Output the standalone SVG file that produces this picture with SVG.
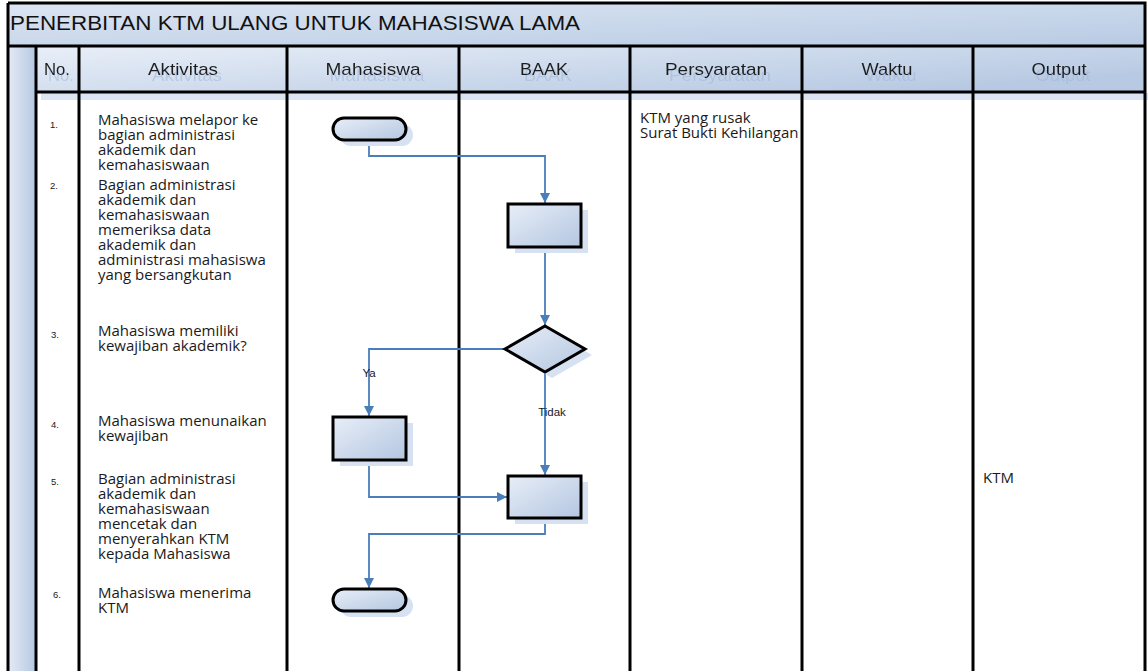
<svg xmlns="http://www.w3.org/2000/svg" width="1148" height="671" viewBox="0 0 1148 671">
<defs>
<linearGradient id="gTitle" x1="0" y1="0" x2="1" y2="1"><stop offset="0" stop-color="#dce5f2"/><stop offset="1" stop-color="#b8cbe4"/></linearGradient>
<linearGradient id="gHead" x1="0" y1="0" x2="1" y2="0.6"><stop offset="0" stop-color="#e9eff8"/><stop offset="1" stop-color="#b8cae3"/></linearGradient>
<linearGradient id="gSide" x1="0" y1="0" x2="1" y2="0"><stop offset="0" stop-color="#e4ebf5"/><stop offset="1" stop-color="#b5c8e2"/></linearGradient>
<linearGradient id="gShape" x1="0" y1="0" x2="1" y2="1"><stop offset="0" stop-color="#e8eef8"/><stop offset="1" stop-color="#b3c6e0"/></linearGradient>
<filter id="tsh" x="-20%" y="-50%" width="140%" height="200%"><feDropShadow dx="4" dy="6" stdDeviation="0.4" flood-color="#9fb6da" flood-opacity="0.55"/></filter>
<marker id="arr" viewBox="0 0 10 10" refX="10" refY="5" markerWidth="10" markerHeight="10" orient="auto" markerUnits="userSpaceOnUse"><path d="M0,0 L10,5 L0,10 z" fill="#4a7ebb"/></marker>
<style>
.grid{stroke:#000;stroke-width:3;fill:none}
.hd{font-family:"Liberation Sans",Arial,sans-serif;font-size:17px;fill:#1e1e1e;text-anchor:middle}
.tx{font-family:"Open Sans","Noto Sans",sans-serif;font-size:15px;fill:#1a1a1a}
.num{font-family:"Liberation Sans",Arial,sans-serif;font-size:9.5px;fill:#1a1a1a}
.lbl{font-family:"Liberation Sans",Arial,sans-serif;font-size:11.5px;fill:#1a1a1a}
.shape{fill:url(#gShape);stroke:#000;stroke-width:3}
.shadow{fill:#d6e1f1}
.hsh{fill:#dbe4f2}
.conn{fill:none;stroke:#4a7ebb;stroke-width:1.8}
</style>
</defs>
<rect width="1148" height="671" fill="#fff"/>
<g id="frame">
<rect x="8" y="3" width="1137" height="43" fill="url(#gTitle)"/>
<rect x="8" y="46" width="28" height="625" fill="url(#gSide)"/>
<rect x="41" y="93" width="43" height="7" class="hsh"/>
<rect x="84" y="93" width="208" height="7" class="hsh"/>
<rect x="292" y="93" width="172" height="7" class="hsh"/>
<rect x="464" y="93" width="171" height="7" class="hsh"/>
<rect x="635" y="93" width="172" height="7" class="hsh"/>
<rect x="807" y="93" width="171" height="7" class="hsh"/>
<rect x="978" y="93" width="170" height="7" class="hsh"/>
<rect x="36" y="46" width="1109" height="46" fill="url(#gHead)"/>
<text x="10" y="30" font-family="Liberation Sans,Arial,sans-serif" font-size="21" fill="#111" textLength="570" lengthAdjust="spacingAndGlyphs">PENERBITAN KTM ULANG UNTUK MAHASISWA LAMA</text>
<path class="grid" d="M8,3 H1145 V671 M8,3 V671 M8,46 H1145 M36,92 H1145 M36,46 V671 M79,46 V671 M287,46 V671 M459,46 V671 M630,46 V671 M802,46 V671 M973,46 V671"/>
<g filter="url(#tsh)">
<text class="hd" x="57" y="75" textLength="26" lengthAdjust="spacingAndGlyphs">No.</text>
<text class="hd" x="183" y="75" textLength="70" lengthAdjust="spacingAndGlyphs">Aktivitas</text>
<text class="hd" x="373" y="75" textLength="95" lengthAdjust="spacingAndGlyphs">Mahasiswa</text>
<text class="hd" x="544" y="75" textLength="48" lengthAdjust="spacingAndGlyphs">BAAK</text>
<text class="hd" x="716" y="75" textLength="102" lengthAdjust="spacingAndGlyphs">Persyaratan</text>
<text class="hd" x="887" y="75" textLength="51" lengthAdjust="spacingAndGlyphs">Waktu</text>
<text class="hd" x="1059" y="75" textLength="55" lengthAdjust="spacingAndGlyphs">Output</text>
</g>
</g>
<g id="rows">
<text class="num" x="50" y="128">1.</text>
<text class="tx" x="98" y="125"><tspan x="98">Mahasiswa melapor ke</tspan><tspan x="98" dy="15">bagian administrasi</tspan><tspan x="98" dy="15">akademik dan</tspan><tspan x="98" dy="15">kemahasiswaan</tspan></text>
<text class="num" x="50" y="189">2.</text>
<text class="tx" x="98" y="190"><tspan x="98">Bagian administrasi</tspan><tspan x="98" dy="15">akademik dan</tspan><tspan x="98" dy="15">kemahasiswaan</tspan><tspan x="98" dy="15">memeriksa data</tspan><tspan x="98" dy="15">akademik dan</tspan><tspan x="98" dy="15">administrasi mahasiswa</tspan><tspan x="98" dy="15">yang bersangkutan</tspan></text>
<text class="num" x="51" y="338">3.</text>
<text class="tx" x="98" y="336"><tspan x="98">Mahasiswa memiliki</tspan><tspan x="98" dy="15">kewajiban akademik?</tspan></text>
<text class="num" x="51" y="428">4.</text>
<text class="tx" x="98" y="426"><tspan x="98">Mahasiswa menunaikan</tspan><tspan x="98" dy="15">kewajiban</tspan></text>
<text class="num" x="51" y="485">5.</text>
<text class="tx" x="98" y="484"><tspan x="98">Bagian administrasi</tspan><tspan x="98" dy="15">akademik dan</tspan><tspan x="98" dy="15">kemahasiswaan</tspan><tspan x="98" dy="15">mencetak dan</tspan><tspan x="98" dy="15">menyerahkan KTM</tspan><tspan x="98" dy="15">kepada Mahasiswa</tspan></text>
<text class="num" x="53" y="598">6.</text>
<text class="tx" x="98" y="598"><tspan x="98">Mahasiswa menerima</tspan><tspan x="98" dy="15">KTM</tspan></text>
<text class="tx" x="640" y="123"><tspan x="640">KTM yang rusak</tspan><tspan x="640" dy="15">Surat Bukti Kehilangan</tspan></text>
<text class="tx" x="983" y="483">KTM</text>
</g>
<g id="connectors">
<polyline class="conn" points="369,140 369,156 545,156 545,203" marker-end="url(#arr)"/>
<polyline class="conn" points="545,247 545,325" marker-end="url(#arr)"/>
<polyline class="conn" points="505,349 369,349 369,416" marker-end="url(#arr)"/>
<polyline class="conn" points="545,372 545,475" marker-end="url(#arr)"/>
<polyline class="conn" points="369,460 369,497 507,497" marker-end="url(#arr)"/>
<polyline class="conn" points="545,518 545,534 369,534 369,588" marker-end="url(#arr)"/>
<text class="lbl" x="369" y="377" text-anchor="middle">Ya</text>
<text class="lbl" x="552" y="416" text-anchor="middle">Tidak</text>
</g>
<g id="n1">
<rect class="shadow" x="340" y="124" width="73" height="22" rx="11"/>
<rect class="shape" x="333" y="118" width="73" height="22" rx="11"/>
</g>
<g id="n2">
<rect class="shadow" x="515" y="210" width="73" height="43"/>
<rect class="shape" x="508" y="204" width="73" height="43"/>
</g>
<g id="n3">
<polygon class="shadow" points="552,332 592,355 552,378 512,355"/>
<polygon class="shape" points="545,326 585,349 545,372 505,349"/>
</g>
<g id="n4">
<rect class="shadow" x="340" y="423" width="73" height="43"/>
<rect class="shape" x="333" y="417" width="73" height="43"/>
</g>
<g id="n5">
<rect class="shadow" x="515" y="482" width="73" height="42"/>
<rect class="shape" x="508" y="476" width="73" height="42"/>
</g>
<g id="n6">
<rect class="shadow" x="340" y="595" width="73" height="22" rx="11"/>
<rect class="shape" x="333" y="589" width="73" height="22" rx="11"/>
</g>
</svg>
